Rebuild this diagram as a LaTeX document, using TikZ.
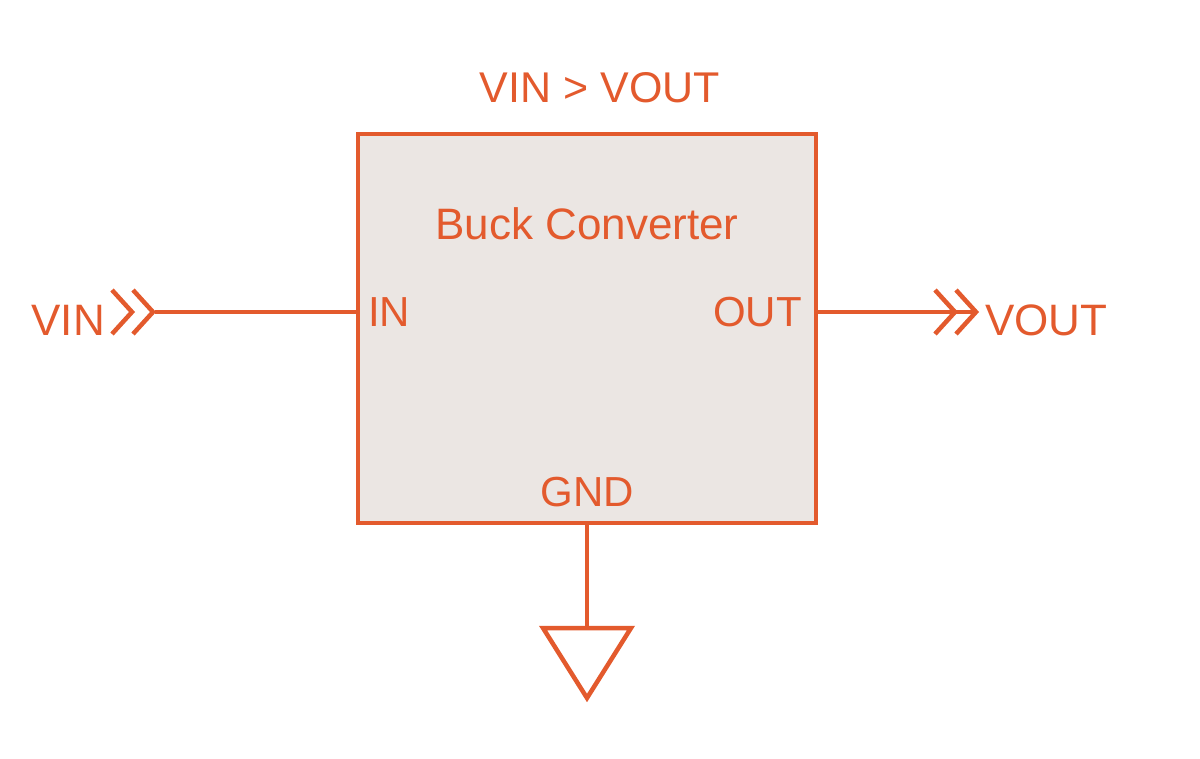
\documentclass[tikz,border=0pt]{standalone}
\usepackage{fontspec}
\setmainfont{Liberation Sans}
\begin{document}
\begin{tikzpicture}[x=1pt,y=-1pt,
  ln/.style={draw=oc,line width=4.5pt},
  lbl/.style={text=oc,font=\fontsize{44}{48}\selectfont,inner sep=0pt},
  chev/.style={draw=oc,line width=4.5pt,line join=miter}]
\definecolor{oc}{HTML}{E35A2D}
\definecolor{bx}{HTML}{EBE6E3}
\useasboundingbox (0,0) rectangle (1200,759);
\node[ln,fill=bx,minimum width=458pt,minimum height=389pt,inner sep=0pt] (box) at (587,328.5) {};
\node[lbl,font=\fontsize{43}{46}\selectfont] (title) at (600,88) {VIN > VOUT};
\node[lbl,font=\fontsize{44}{48}\selectfont] (bc) at (587,224) {Buck Converter};
\node[lbl,font=\fontsize{42}{46}\selectfont,anchor=west] (in) at (368,312) {IN};
\node[lbl,font=\fontsize{42}{46}\selectfont,anchor=east] (out) at (802,312) {OUT};
\node[lbl,font=\fontsize{42}{46}\selectfont] (gnd) at (587,492) {GND};
\node[lbl,anchor=east] (vin) at (105,320) {VIN};
\node[lbl,anchor=west] (vout) at (985,320) {VOUT};
\coordinate (l1) at (155,312);
\coordinate (r1) at (975,312);
\coordinate (g1) at (587,628);
\draw[ln] (l1) -- (box.west |- l1);
\draw[ln] (box.east |- r1) -- (r1);
\draw[chev] (112,290) -- (132,312) -- (112,334) (133,290) -- (153,312) -- (133,334);
\draw[chev] (935,290) -- (955,312) -- (935,334) (956,290) -- (976,312) -- (956,334);
\draw[ln] (box.south -| g1) -- (g1);
\draw[ln,line join=miter] (543,628) -- (631,628) -- (587,698) -- cycle;
\end{tikzpicture}
\end{document}
